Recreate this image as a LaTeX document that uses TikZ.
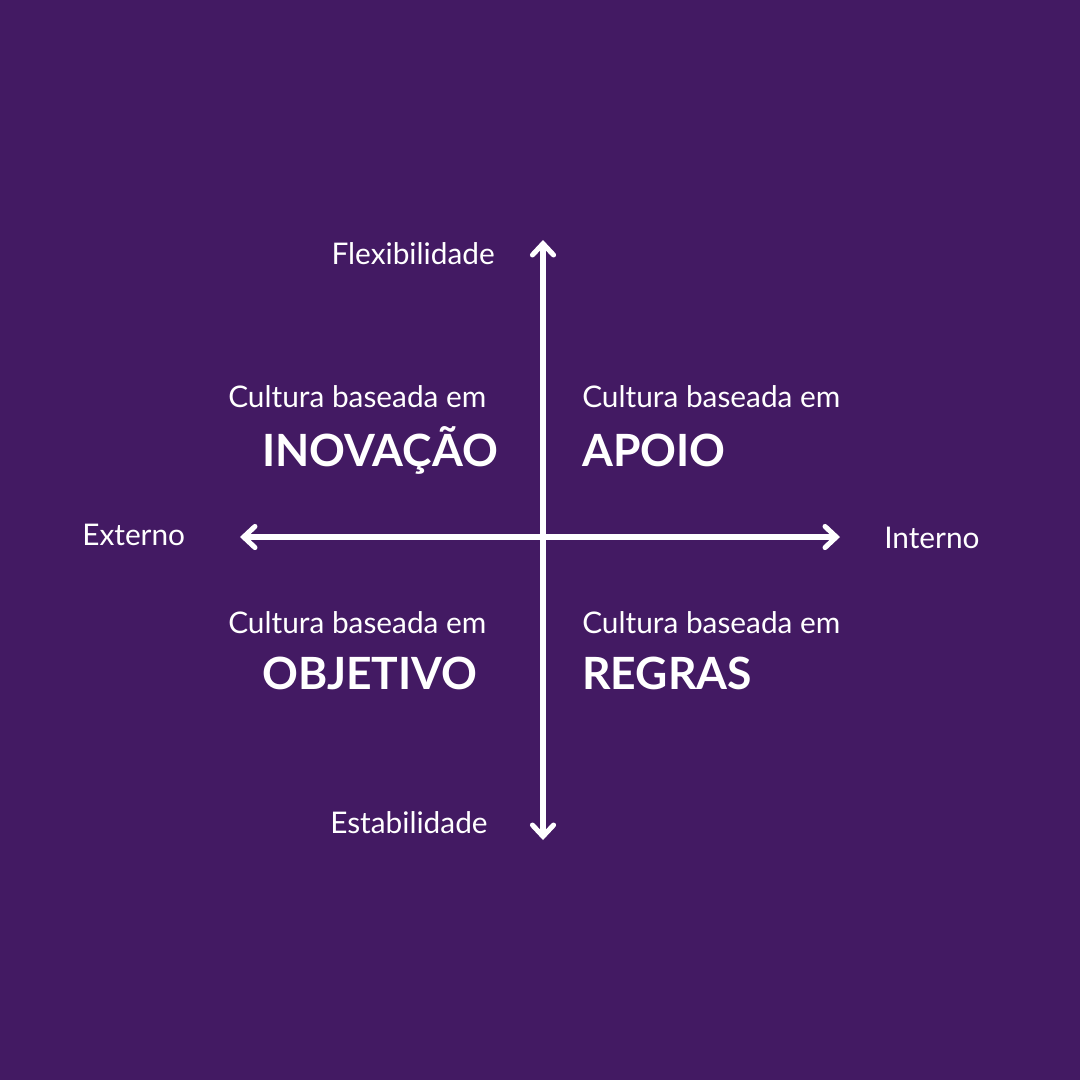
\documentclass[tikz,border=0pt]{standalone}
\usepackage{fontspec}
\setmainfont{Lato}
\usetikzlibrary{arrows.meta}
\definecolor{bg}{HTML}{431A63}
\begin{document}
\begin{tikzpicture}[x=0.025cm,y=-0.025cm,
  ax/.style={white,line width=3.6pt,{Straight Barb[length=8pt,width=15pt,line cap=round]}-{Straight Barb[length=8pt,width=15pt,line cap=round]},line cap=round},
  sm/.style={white,font=\fontsize{21.2}{24}\selectfont,inner sep=0pt},
  big/.style={white,font=\fontsize{31.6}{36}\selectfont\bfseries,inner sep=0pt}]
\fill[bg] (0,0) rectangle (1080,1080);
\coordinate (t) at (543,240); \coordinate (b) at (543,840);
\coordinate (l) at (240,537); \coordinate (r) at (840,537);
\draw[ax] (t) -- (b);
\draw[ax] (l) -- (r);
\node[sm,anchor=east] (flex) at (495,254) {Flexibilidade};
\node[sm,anchor=west] (est) at (330,823) {Estabilidade};
\node[sm,anchor=west] (ext) at (82,535) {Externo};
\node[sm,anchor=west] (int) at (884,538) {Interno};
\node[sm,anchor=west] (c1) at (228,397) {Cultura baseada em};
\node[sm,anchor=west] (c2) at (582,397) {Cultura baseada em};
\node[sm,anchor=west] (c3) at (228,623) {Cultura baseada em};
\node[sm,anchor=west] (c4) at (582,623) {Cultura baseada em};
\node[big,anchor=west] (inov) at (262,450) {INOVAÇÃO};
\node[big,anchor=west] (apoio) at (582,450) {APOIO};
\node[big,anchor=west] (obj) at (262,673) {OBJETIVO};
\node[big,anchor=west] (reg) at (582,673) {REGRAS};
\end{tikzpicture}
\end{document}
